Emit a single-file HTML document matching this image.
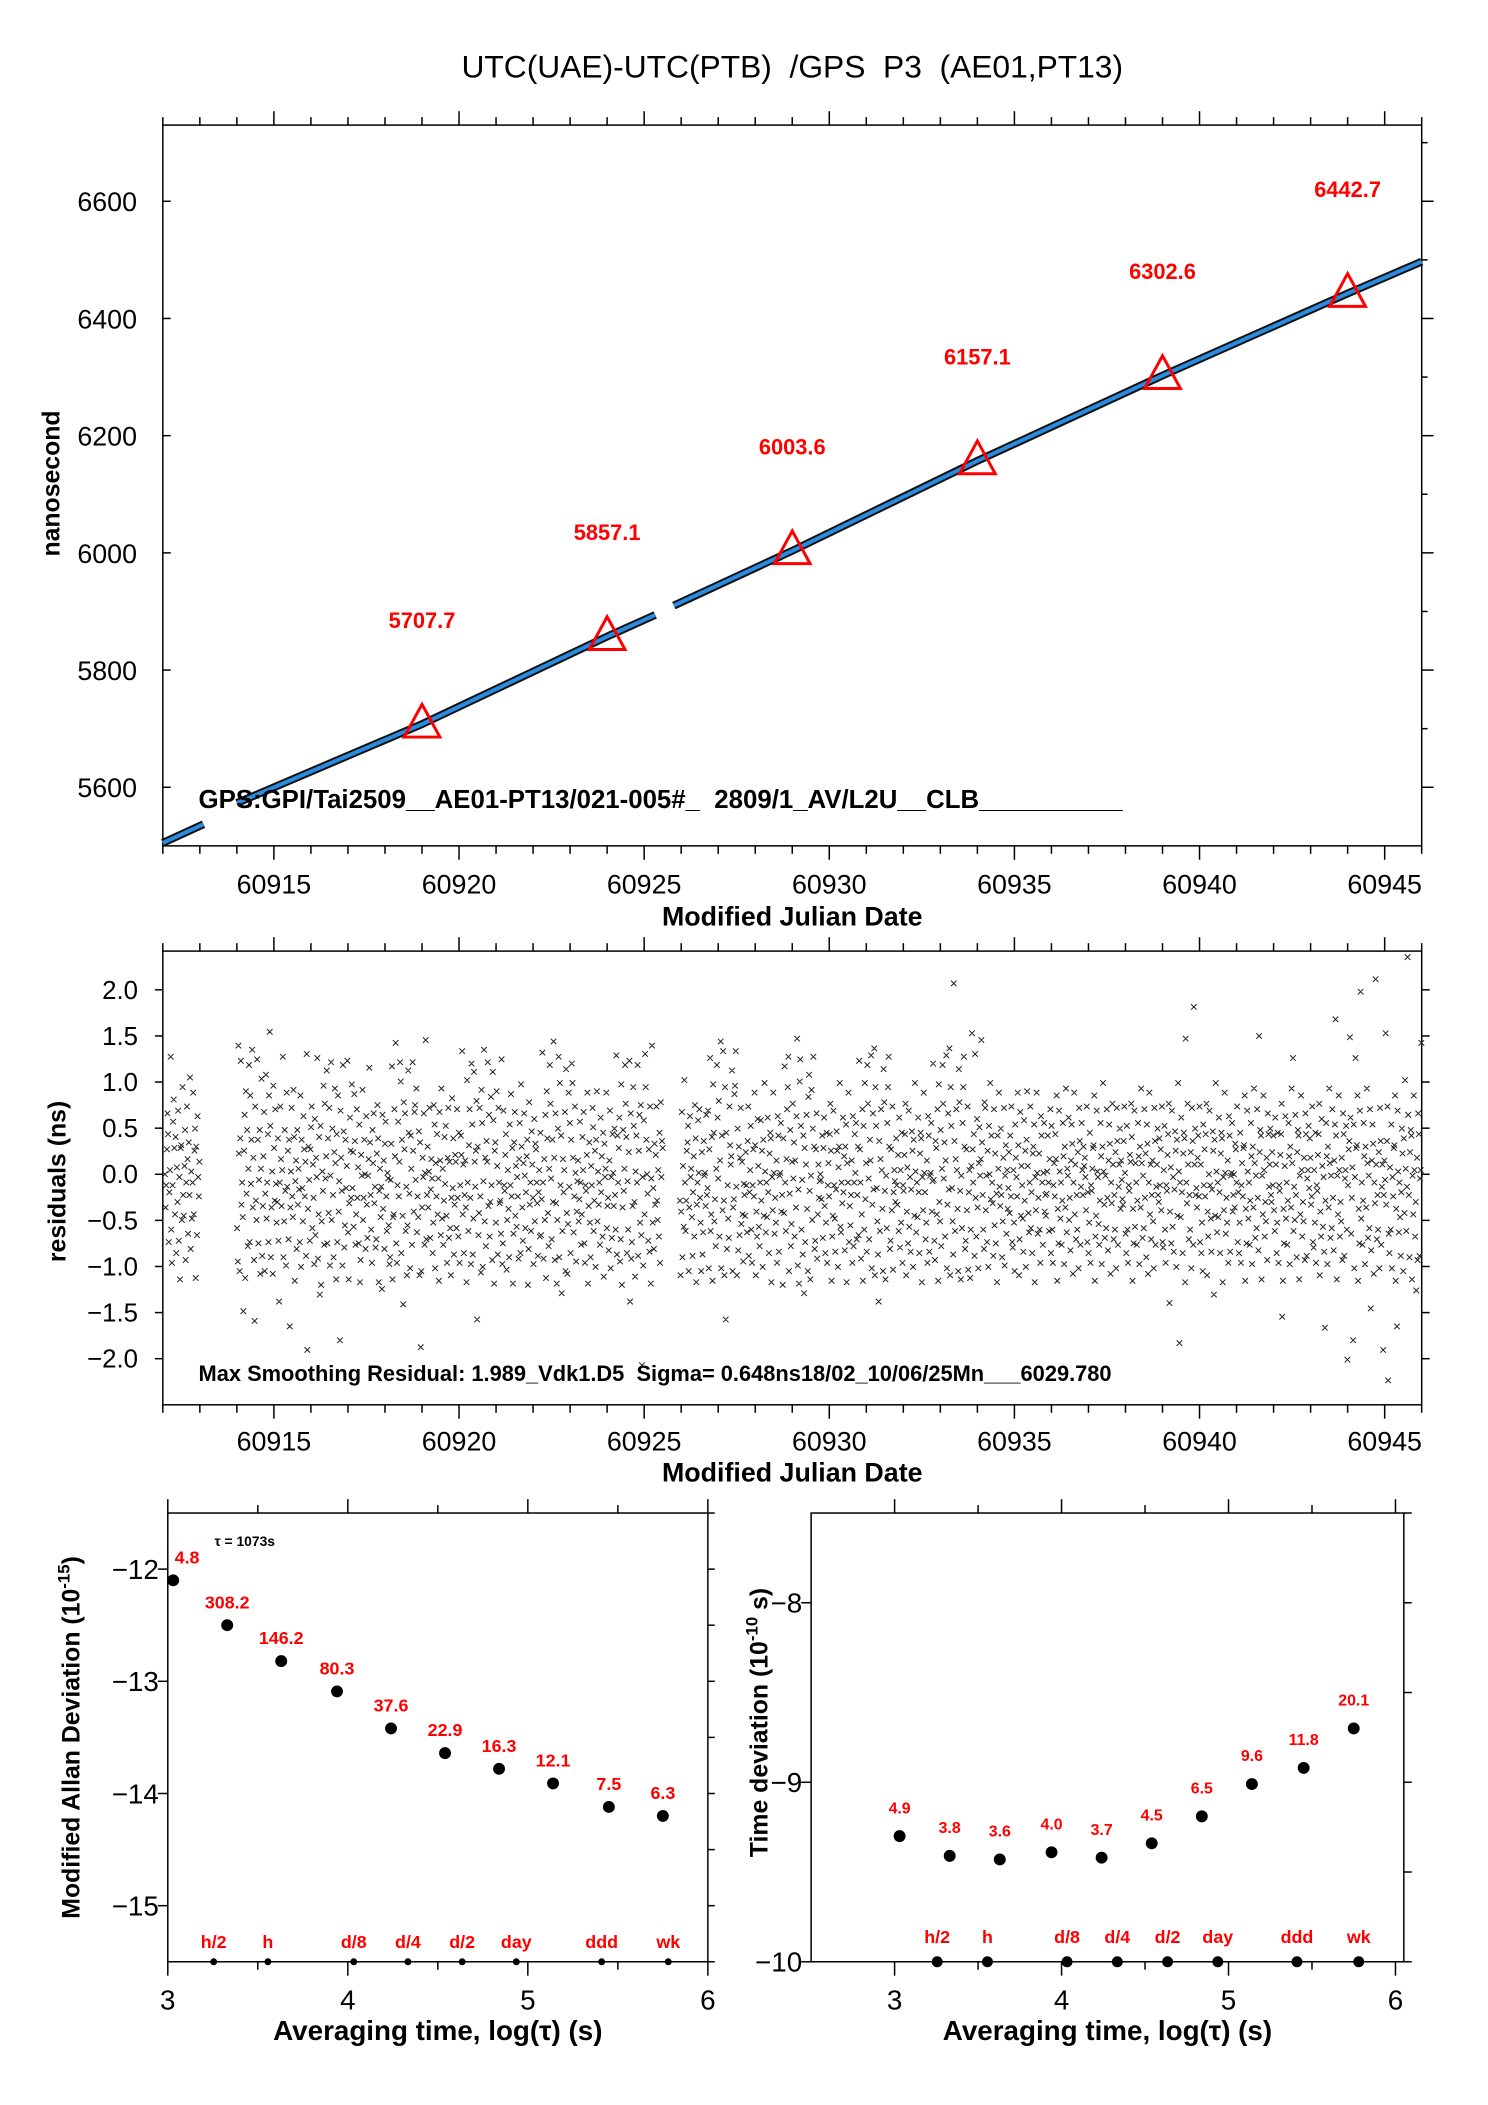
<!DOCTYPE html>
<html><head><meta charset="utf-8"><style>
html,body{margin:0;padding:0;background:#fff;}
svg{display:block;font-family:"Liberation Sans Narrow","Liberation Sans",sans-serif;}
text{white-space:pre;}
</style></head><body>
<svg id="c" width="1488" height="2105" viewBox="0 0 1488 2105" xmlns="http://www.w3.org/2000/svg">
<rect x="0" y="0" width="1488" height="2105" fill="#fff"/>
<g id="root" transform="scale(0.9928)">
<text x="798" y="78" font-size="32" text-anchor="middle" xml:space="preserve">UTC(UAE)-UTC(PTB)  /GPS  P3  (AE01,PT13)</text>
</g>
</svg>
<script>
// ---- data ----
const topMjd = [60912, 60913.1, 60914.0, 60919, 60924, 60925.3, 60925.8, 60929, 60934, 60939, 60944, 60946];
const topVal = [5505, 5537, 5573, 5707.7, 5857.1, 5894, 5910, 6003.6, 6157.1, 6302.6, 6442.7, 6497];
const topBreakAfter = [1, 5];
const triMjd = [60919, 60924, 60929, 60934, 60939, 60944];
const triVal = [5707.7, 5857.1, 6003.6, 6157.1, 6302.6, 6442.7];
const triLabels = ["5707.7", "5857.1", "6003.6", "6157.1", "6302.6", "6442.7"];
const topYTicks = [5600, 5800, 6000, 6200, 6400, 6600];
const mjdTicks = [60915, 60920, 60925, 60930, 60935, 60940, 60945];
const resYTicks = [-2.0, -1.5, -1.0, -0.5, 0.0, 0.5, 1.0, 1.5, 2.0];
const resSegments = [[60912.05, 60913.0], [60914.0, 60925.5], [60925.95, 60946]];
const resCodes =
"ifhjmkdgiqebhlnjfkcigmdhajkeogfilbhmjdkgpciehnfjlakdmhgiebrj" +
"bkqfhe8jmaoglcipdnhkrfjb7mgeqkdhlaiocfjmbgpehkdnslcfiaojgmhe" +
"gkd8hmjfiqcelgbnhjdk7fimgeokahjclfigdnbkhemjgicq5fkhdjlmeigb" +
"mdjhqbfk9laeigocnhjpdkfmbhqelgcjoiakdnfh6mjgbplcekhiqdafmjgo" +
"hjenkcfmgidlabjhoegkicmfdhjpkgeblimfhcdjnkagieh9mfjcklgdiheb" +
"chkpaefmjrdbhlgiqockf8njmdhaeplgbkicqjfmnhodgelak5bfjhmcirdg" +
"kfimdgjhcenlbigkfhamjdoeicgkhlfbjmdieagnhkcfjiemgdlbhkjqficg" +
"jfaohdkmgbqlcepihjn7kdfmgaolbhrejckiqfmdgnhbplajkeoicmhfgdqb" +
"dmhgjkbeifclhngjadkmfiehgbjlcokfdimhegjkacnfhdligbmekjhfcgid" +
"ldgqhbjemaokfcipnhdkgrjbmfaelqcohk9djgimbpfaenhlckqojdgmibfh" +
"jeglhcfkimdbhgjnafkecihmldgjbkoeifhcmgjdlakhinefgcjmbhdkiflg" +
"eqckhjmbdoaflgipnkchejq8mbdfolgaikhpcjmend4hblfqokigdjcmahre" +
"hckfjmgeidlbnhkjgafmcieohdgjklbfmhiecgjdnkafhlimgebjcdkhifmg" +
"hmbjqdfkaolegcipmhndjrbkfqgao7lchedmkijpbfgnoqhalckdjmeifbhg" +
"fjhdkmcgilebhjgnkafdmiechlgjbkfoidhemgcjlkahfnidgejbmkchilfg" +
"akfphdjmoqbglceinhkdjfmrbgaoqlehck9jdimfbnpgahoelqkcdjmbfigh" +
"ihgkdjmfcelbhigknjadfmhecgljbikoedhfmgjcklaihndfegjbmchkildg" +
"kdqjhbfmaleogicpnhdkjqbfmgraolhec8kdjmifbpngaheloqkcdjfmbgih" +
"gkhfjdmcielbhgjknafidmehcgljbkfoidhemgcjlkahfnigdejbmkchilfh" +
"qhdbkjfmaogelcipnhkdjqbfmgraolhecvkdjmifbpngaheloqkcdjfmbgia" +
"eisjhkcqgdmfbilhjrkgecnmfhdjbliogkhfcmejdgakinhflgcejmbhkdif" +
"hjfkgmdciebljhgnkadmfiheclgjbkoifdhmegcjklahfnidgjebmkhcilfg" +
"fgikhdjmclebhigkjnafdmiehcgljbkfodihmegcjlkahnfidgejbmkchlig" +
"kijhfmdgcelbhgijknadfmihecgljbkoifdhemgcjlkahfnidgejbmkchilf" +
"jhgfkmidclebhgjinkafdmeihcgljbkfoidhemgjclkahnfidgjebmkchilg" +
"gkhjfmdcilebhgjkn8fidmehcgljbkfoi5hemgcjlkarhfnidgejbmkcuilg" +
"hfjkgmdiceblhjgknafdimhecglj9kfoidhemgcjlkahfnidgejbmkchilfg" +
"ifkjhmdgcelbhigjknafdmiehcgljbkfoidhemgcsjlkahfnidgejbmkhilg" +
"gjhkfdmicelbhgjkn7afdimehcgljbkfoiqdhemgcjlkahfnidgejbmkchil" +
"hkjfgmdcielbhgjknafdmiehc6gljbkfoidhemgcjltkahfnidgejbmkchil" +
"e4hjkrmdgi6lbhqjknafdmvehcgljbkfoidhem8cjlkahfwidgejbmkchi5g" +
"jhsfkm3dcielbhgjknaf7midhecgljbkfoidhxmgcjlkahfnidg9jbmkchir";
const resAlphabet = "0123456789abcdefghijklmnopqrstuvwxyz";
const resDither = [0.0, 0.6, 0.2, 0.8, 0.4, 0.9, 0.1, 0.7, 0.3, 0.5];
const adevLogTau = [3.03, 3.33, 3.63, 3.94, 4.24, 4.54, 4.84, 5.14, 5.45, 5.75];
const adevVal = [-12.1, -12.5, -12.82, -13.09, -13.42, -13.64, -13.78, -13.91, -14.12, -14.2];
const adevLabels = ["4.8", "308.2", "146.2", "80.3", "37.6", "22.9", "16.3", "12.1", "7.5", "6.3"];
const tdevLogTau = [3.03, 3.33, 3.63, 3.94, 4.24, 4.54, 4.84, 5.14, 5.45, 5.75];
const tdevVal = [-9.30, -9.41, -9.43, -9.39, -9.42, -9.34, -9.19, -9.01, -8.92, -8.70];
const tdevLabels = ["4.9", "3.8", "3.6", "4.0", "3.7", "4.5", "6.5", "9.6", "11.8", "20.1"];
const markLogTau = [3.255, 3.556, 4.033, 4.334, 4.635, 4.936, 5.41, 5.78];
const markLabels = ["h/2", "h", "d/8", "d/4", "d/2", "day", "ddd", "wk"];
const adevYTicks = [-12, -13, -14, -15];
const tdevYTicks = [-8, -9, -10];
const logTicks = [3, 4, 5, 6];

// ---- drawing ----
const NS = "http://www.w3.org/2000/svg";
const svg = document.getElementById("root");
function mk(tag, attrs, parent) {
  const e = document.createElementNS(NS, tag);
  for (const k in attrs) e.setAttribute(k, attrs[k]);
  (parent || svg).appendChild(e);
  return e;
}
function scale(d0, d1, p0, p1) { return v => p0 + (v - d0) / (d1 - d0) * (p1 - p0); }

const P1 = {x0:164, x1:1432, y0:126, y1:852};
const P2 = {x0:164, x1:1432, y0:958, y1:1415};
const P3 = {x0:169, x1:713, y0:1524, y1:1976};
const P4 = {x0:817, x1:1414, y0:1524, y1:1976};
const x1s = scale(60912, 60946, P1.x0, P1.x1);
const y1s = scale(5500, 6730, P1.y1, P1.y0);
const y2s = scale(-2.5, 2.42, P2.y1, P2.y0);
const x3s = scale(3, 6, P3.x0, P3.x1);
const y3s = scale(-15.5, -11.5, P3.y1, P3.y0);
const x4s = scale(2.5, 6.05, P4.x0, P4.x1);
const y4s = scale(-10, -7.5, P4.y1, P4.y0);

function frame(P, name) {
  const r = mk("rect", {x:P.x0, y:P.y0, width:P.x1-P.x0, height:P.y1-P.y0, fill:"none", stroke:"#000", "stroke-width":1.5});
  
  
}
function txt(x, y, s, size, opts) {
  const t = mk("text", Object.assign({x:x, y:y, "font-size":size}, opts || {}));
  t.textContent = s;
  return t;
}
function line(x1, y1, x2, y2, w, name) {
  const l = mk("line", {x1:x1, y1:y1, x2:x2, y2:y2, stroke:"#000", "stroke-width":w || 1.5});
  
  
  return l;
}

// ===== Panel 1 =====
frame(P1, "phase-plot-frame");
for (let d = 60912; d <= 60946; d++) {
  const x = x1s(d), maj = d % 5 === 0, L = maj ? 14 : 8;
  line(x, P1.y0, x, P1.y0 - L, 1.5, "phase-x-tick-top");
  line(x, P1.y1, x, P1.y1 + L, 1.5, "phase-x-tick-bottom");
}
mjdTicks.forEach(v => {
  const t = txt(x1s(v), 900, String(v), 27, {"text-anchor":"middle"});
  
  
});
for (let v = 5600; v <= 6700; v += 100) {
  const y = y1s(v), L = v % 200 === 0 ? 12 : 6;
  line(P1.x1, y, P1.x1 + L, y, 1.5, "phase-y-tick-right");
}
topYTicks.forEach(v => {
  const y = y1s(v);
  line(P1.x0, y, P1.x0 + 8, y, 1.5, "phase-y-tick-left");
  const t = txt(138, y + 10, String(v), 27, {"text-anchor":"end"});
  
  
});
{
  const t = txt(798, 932, "Modified Julian Date", 27, {"text-anchor":"middle", "font-weight":"bold"});
  
  
  const t2 = txt(0, 0, "nanosecond", 25, {"text-anchor":"middle", "font-weight":"bold", "font-family":"Liberation Sans, sans-serif", transform:"translate(60,487) rotate(-90)"});
  
  
}
{
  let segs = [], cur = [];
  topMjd.forEach((m, i) => {
    cur.push([x1s(m), y1s(topVal[i])]);
    if (topBreakAfter.includes(i)) { segs.push(cur); cur = []; }
  });
  segs.push(cur);
  segs.forEach(s => {
    const d = s.map((p, i) => (i ? "L" : "M") + p[0].toFixed(1) + " " + p[1].toFixed(1)).join(" ");
    const a = mk("path", {d:d, fill:"none", stroke:"#111", "stroke-width":8, "stroke-linecap":"butt"});
    
    
    const b = mk("path", {d:d, fill:"none", stroke:"#2a8be0", "stroke-width":4});
    
    
  });
}
triMjd.forEach((m, i) => {
  const x = x1s(m), y = y1s(triVal[i]);
  const p = mk("polygon", {points:`${x},${y-20} ${x-18},${y+13} ${x+18},${y+13}`, fill:"none", stroke:"#f00", "stroke-width":3});
  
  
  const t = txt(x, y1s(triVal[i] + 178) + 8, triLabels[i], 22, {"text-anchor":"middle", fill:"#f00", "font-weight":"bold"});
  
  
});
{
  const t = txt(200, 814, "GPS:GPI/Tai2509__AE01-PT13/021-005#_  2809/1_AV/L2U__CLB__________", 26, {"font-weight":"bold", "xml:space":"preserve"});
  
  
}

// ===== Panel 2 =====
frame(P2, "residual-plot-frame");
for (let d = 60912; d <= 60946; d++) {
  const x = x1s(d), maj = d % 5 === 0, L = maj ? 14 : 8;
  line(x, P2.y0, x, P2.y0 - L, 1.5, "residual-x-tick-top");
  line(x, P2.y1, x, P2.y1 + L, 1.5, "residual-x-tick-bottom");
}
mjdTicks.forEach(v => {
  const t = txt(x1s(v), 1461, String(v), 27, {"text-anchor":"middle"});
  
  
});
resYTicks.forEach(v => {
  const y = y2s(v);
  line(P2.x0, y, P2.x0 - 8, y, 1.5, "residual-y-tick-left");
  line(P2.x1, y, P2.x1 + 8, y, 1.5, "residual-y-tick-right");
  const s = (v < 0 ? "\u2212" : "") + Math.abs(v).toFixed(1);
  const t = txt(139, y + 9, s, 26, {"text-anchor":"end"});
  
  
});
{
  const t = txt(798, 1492, "Modified Julian Date", 27, {"text-anchor":"middle", "font-weight":"bold"});
  
  
  const t2 = txt(0, 0, "residuals (ns)", 25, {"text-anchor":"middle", "font-weight":"bold", "font-family":"Liberation Sans, sans-serif", transform:"translate(66,1190) rotate(-90)"});
  
  
}
{
  const N = resCodes.length;
  const lens = resSegments.map(s => s[1] - s[0]);
  const total = lens.reduce((a, b) => a + b, 0);
  let d = "";
  for (let i = 0; i < N; i++) {
    let u = (i + 0.5) / N * total, k = 0;
    while (k < lens.length - 1 && u > lens[k]) { u -= lens[k]; k++; }
    const mjd = resSegments[k][0] + u;
    const v = (resAlphabet.indexOf(resCodes[i]) + resDither[i % 10] - 18) * 0.15;
    const x = x1s(mjd), y = y2s(v);
    d += `M${(x-2.8).toFixed(1)} ${(y-2.8).toFixed(1)}l5.6 5.6M${(x-2.8).toFixed(1)} ${(y+2.8).toFixed(1)}l5.6 -5.6`;
  }
  const p = mk("path", {d:d, stroke:"#222", "stroke-width":1, fill:"none"});
  
  
}
{
  const t = txt(200, 1391, "Max Smoothing Residual: 1.989_Vdk1.D5  Sigma= 0.648ns18/02_10/06/25Mn___6029.780", 22, {"font-weight":"bold", "xml:space":"preserve"});
  
  
}

// ===== Panels 3 & 4 =====
function logAxes(P, xs, pre) {
  for (let v = 3; v <= 6; v += 0.5) {
    const x = xs(v), maj = v % 1 === 0;
    line(x, P.y0, x, P.y0 - (maj ? 14 : 8), 1.5, pre + "-x-tick-top");
    line(x, P.y1, x, P.y1 + (maj ? 14 : 8), 1.5, pre + "-x-tick-bottom");
  }
  logTicks.forEach(v => {
    const t = txt(xs(v), 2024, String(v), 28, {"text-anchor":"middle"});
    
    
  });
  const t = txt((P.x0 + P.x1) / 2, 2055, "Averaging time, log(\u03c4) (s)", 28, {"text-anchor":"middle", "font-weight":"bold"});
  
  
}
frame(P3, "adev-plot-frame");
logAxes(P3, x3s, "adev");
for (let v = -15.5; v <= -11.5; v += 0.5) {
  const y = y3s(v);
  line(P3.x1, y, P3.x1 + 7, y, 1.5, "adev-y-tick-right");
}
adevYTicks.forEach(v => {
  const y = y3s(v);
  line(P3.x0, y, P3.x0 - 10, y, 1.5, "adev-y-tick-left");
  const t = txt(160, y + 10, "\u2212" + Math.abs(v), 28, {"text-anchor":"end"});
  
  
});
{
  const t = mk("text", {x:0, y:0, "font-size":25, "font-weight":"bold", "text-anchor":"middle", "font-family":"Liberation Sans, sans-serif", transform:"translate(80,1750) rotate(-90)"});
  t.innerHTML = 'Modified Allan Deviation (10<tspan dy="-10" font-size="17">-15</tspan><tspan dy="10">)</tspan>';
  
  
  const t2 = txt(216, 1557, "\u03c4 = 1073s", 14, {"font-weight":"bold"});
  
  
}
adevLogTau.forEach((v, i) => {
  const x = x3s(v), y = y3s(adevVal[i]);
  const c = mk("circle", {cx:x, cy:y, r:6, fill:"#000"});
  
  
  const t = txt(x + (i === 0 ? 14 : 0), y - 17, adevLabels[i], 18, {"text-anchor":"middle", fill:"#f00", "font-weight":"bold"});
  
  
});
markLogTau.forEach((v, i) => {
  const x = x3s(v);
  const c = mk("circle", {cx:x, cy:P3.y1, r:3.5, fill:"#000"});
  
  
  const t = txt(x, 1962, markLabels[i], 18, {"text-anchor":"middle", fill:"#f00", "font-weight":"bold"});
  
  
});

frame(P4, "tdev-plot-frame");
logAxes(P4, x4s, "tdev");
for (let v = -10; v <= -7.5; v += 0.5) {
  const y = y4s(v);
  line(P4.x1, y, P4.x1 + 8, y, 1.5, "tdev-y-tick-right");
}
tdevYTicks.forEach(v => {
  const y = y4s(v);
  line(P4.x0, y, P4.x0 - 10, y, 1.5, "tdev-y-tick-left");
  const t = txt(808, y + 10, "\u2212" + Math.abs(v), 28, {"text-anchor":"end"});
  
  
});
{
  const t = mk("text", {x:0, y:0, "font-size":25, "font-weight":"bold", "text-anchor":"middle", "font-family":"Liberation Sans, sans-serif", transform:"translate(773,1735) rotate(-90)"});
  t.innerHTML = 'Time deviation (10<tspan dy="-10" font-size="17">-10</tspan><tspan dy="10"> s)</tspan>';
  
  
}
tdevLogTau.forEach((v, i) => {
  const x = x4s(v), y = y4s(tdevVal[i]);
  const c = mk("circle", {cx:x, cy:y, r:6, fill:"#000"});
  
  
  const t = txt(x, y - 23, tdevLabels[i], 16, {"text-anchor":"middle", fill:"#f00", "font-weight":"bold"});
  
  
});
markLogTau.forEach((v, i) => {
  const x = x4s(v);
  const c = mk("circle", {cx:x, cy:P4.y1, r:5.5, fill:"#000"});
  
  
  const t = txt(x, 1957, markLabels[i], 18, {"text-anchor":"middle", fill:"#f00", "font-weight":"bold"});
  
  
});
</script>
</body></html>
